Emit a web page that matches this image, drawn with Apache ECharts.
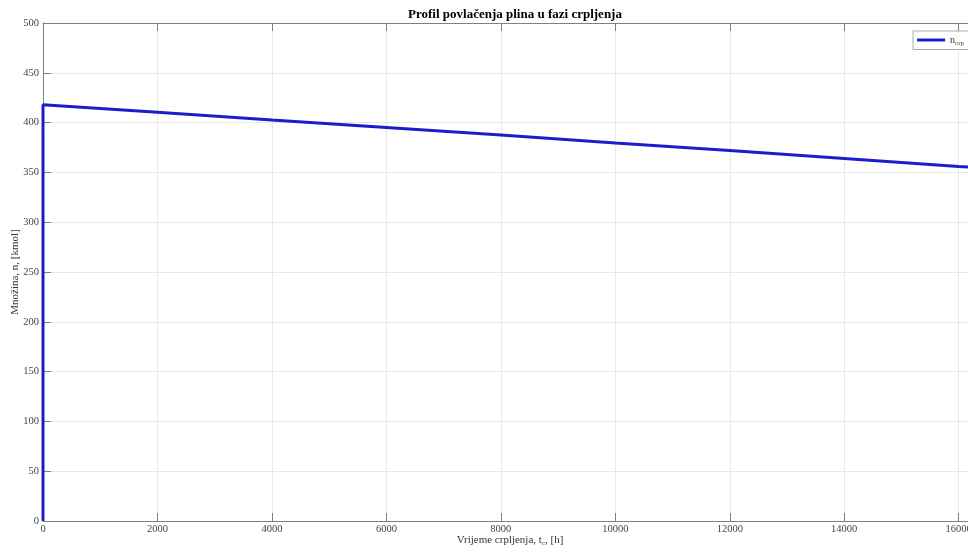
<!DOCTYPE html>
<html><head><meta charset="utf-8">
<script src="https://cdn.jsdelivr.net/npm/echarts@6/dist/echarts.min.js"></script>
<style>html,body{margin:0;padding:0;background:#fff}#c{width:968px;height:552px}</style>
</head><body><div id="c"></div>
<script>
const timeH = [0, 0, 2000, 4000, 6000, 8000, 10000, 12000, 14000, 16000, 16320];
const amountKmol = [0, 418, 410.5, 402.5, 395, 387.5, 379.5, 372, 364, 356, 355];
const xTicksMax = 16320;
const yMax = 500;
const seriesName = 'n_crp';

const data = timeH.map((t, i) => [t, amountKmol[i]]);
const serif = '"Liberation Serif", "DejaVu Serif", serif';
const axisCol = '#7f7f7f';
const gridCol = '#e8e8e8';

const chart = echarts.init(document.getElementById('c'));
chart.setOption({
  animation: false,
  backgroundColor: '#fff',
  title: {
    text: 'Profil povlačenja plina u fazi crpljenja',
    left: 510, top: 3, textAlign: 'center',
    textStyle: {fontFamily: serif, fontSize: 13, fontWeight: 'bold', color: '#000'}
  },
  grid: {left: 43, top: 23, bottom: 31, right: -9, containLabel: false, outerBoundsMode: 'none'},
  legend: {
    right: -4, top: 31,
    orient: 'vertical',
    backgroundColor: '#fff', borderColor: '#aaa', borderWidth: 1,
    padding: [4, 8, 3, 4],
    itemWidth: 28, itemHeight: 3, itemGap: 0,
    icon: 'rect',
    data: [seriesName],
    formatter: () => '{a|n}{b|crp}',
    textStyle: {
      fontFamily: serif, color: '#333',
      rich: {a: {fontSize: 10, fontFamily: serif, color: '#333'}, b: {fontSize: 7, fontFamily: serif, color: '#333', verticalAlign: 'bottom', padding: [6, 0, 0, 0]}}
    }
  },
  xAxis: [{
    type: 'value', min: 0, max: xTicksMax, interval: 2000,
    name: '{a|Vrijeme crpljenja, t}{b|c}{a|, [h]}',
    nameLocation: 'middle', nameGap: 13, nameMoveOverlap: false,
    nameTextStyle: {
      fontFamily: serif, color: '#333',
      rich: {a: {fontSize: 11, fontFamily: serif, color: '#333'}, b: {fontSize: 7, fontFamily: serif, color: '#333', padding: [6, 0, 0, 0]}}
    },
    axisLine: {show: true, onZero: false, lineStyle: {color: axisCol, width: 1}},
    axisTick: {show: true, inside: true, length: 8, lineStyle: {color: axisCol}},
    axisLabel: {fontFamily: serif, fontSize: 10.5, color: '#444', margin: 3, showMaxLabel: false, formatter: v => String(v)},
    splitLine: {show: true, lineStyle: {color: gridCol, width: 1}}
  }, {
    type: 'value', position: 'top', min: 0, max: xTicksMax, interval: 2000,
    axisLine: {show: true, onZero: false, lineStyle: {color: axisCol, width: 1}},
    axisTick: {show: true, inside: true, length: 8, lineStyle: {color: axisCol}},
    axisLabel: {show: false}, splitLine: {show: false}
  }],
  yAxis: [{
    type: 'value', min: 0, max: yMax, interval: 50,
    name: 'Množina, n, [kmol]',
    nameLocation: 'middle', nameGap: 22, nameMoveOverlap: false,
    nameTextStyle: {fontFamily: serif, fontSize: 11, color: '#333'},
    axisLine: {show: true, onZero: false, lineStyle: {color: axisCol, width: 1}},
    axisTick: {show: true, inside: true, length: 8, lineStyle: {color: axisCol}},
    axisLabel: {fontFamily: serif, fontSize: 10.5, color: '#444', margin: 4, formatter: v => String(v)},
    splitLine: {show: true, lineStyle: {color: gridCol, width: 1}}
  }, {
    type: 'value', position: 'right', min: 0, max: yMax, interval: 50,
    axisLine: {show: true, onZero: false, lineStyle: {color: axisCol, width: 1}},
    axisTick: {show: true, inside: true, length: 8, lineStyle: {color: axisCol}},
    axisLabel: {show: false}, splitLine: {show: false}
  }],
  series: [{
    name: seriesName, type: 'line', data: data,
    showSymbol: false, symbol: 'none',
    lineStyle: {color: '#1c1ccc', width: 3},
    itemStyle: {color: '#1c1ccc'},
    z: 5
  }]
});
</script></body></html>
